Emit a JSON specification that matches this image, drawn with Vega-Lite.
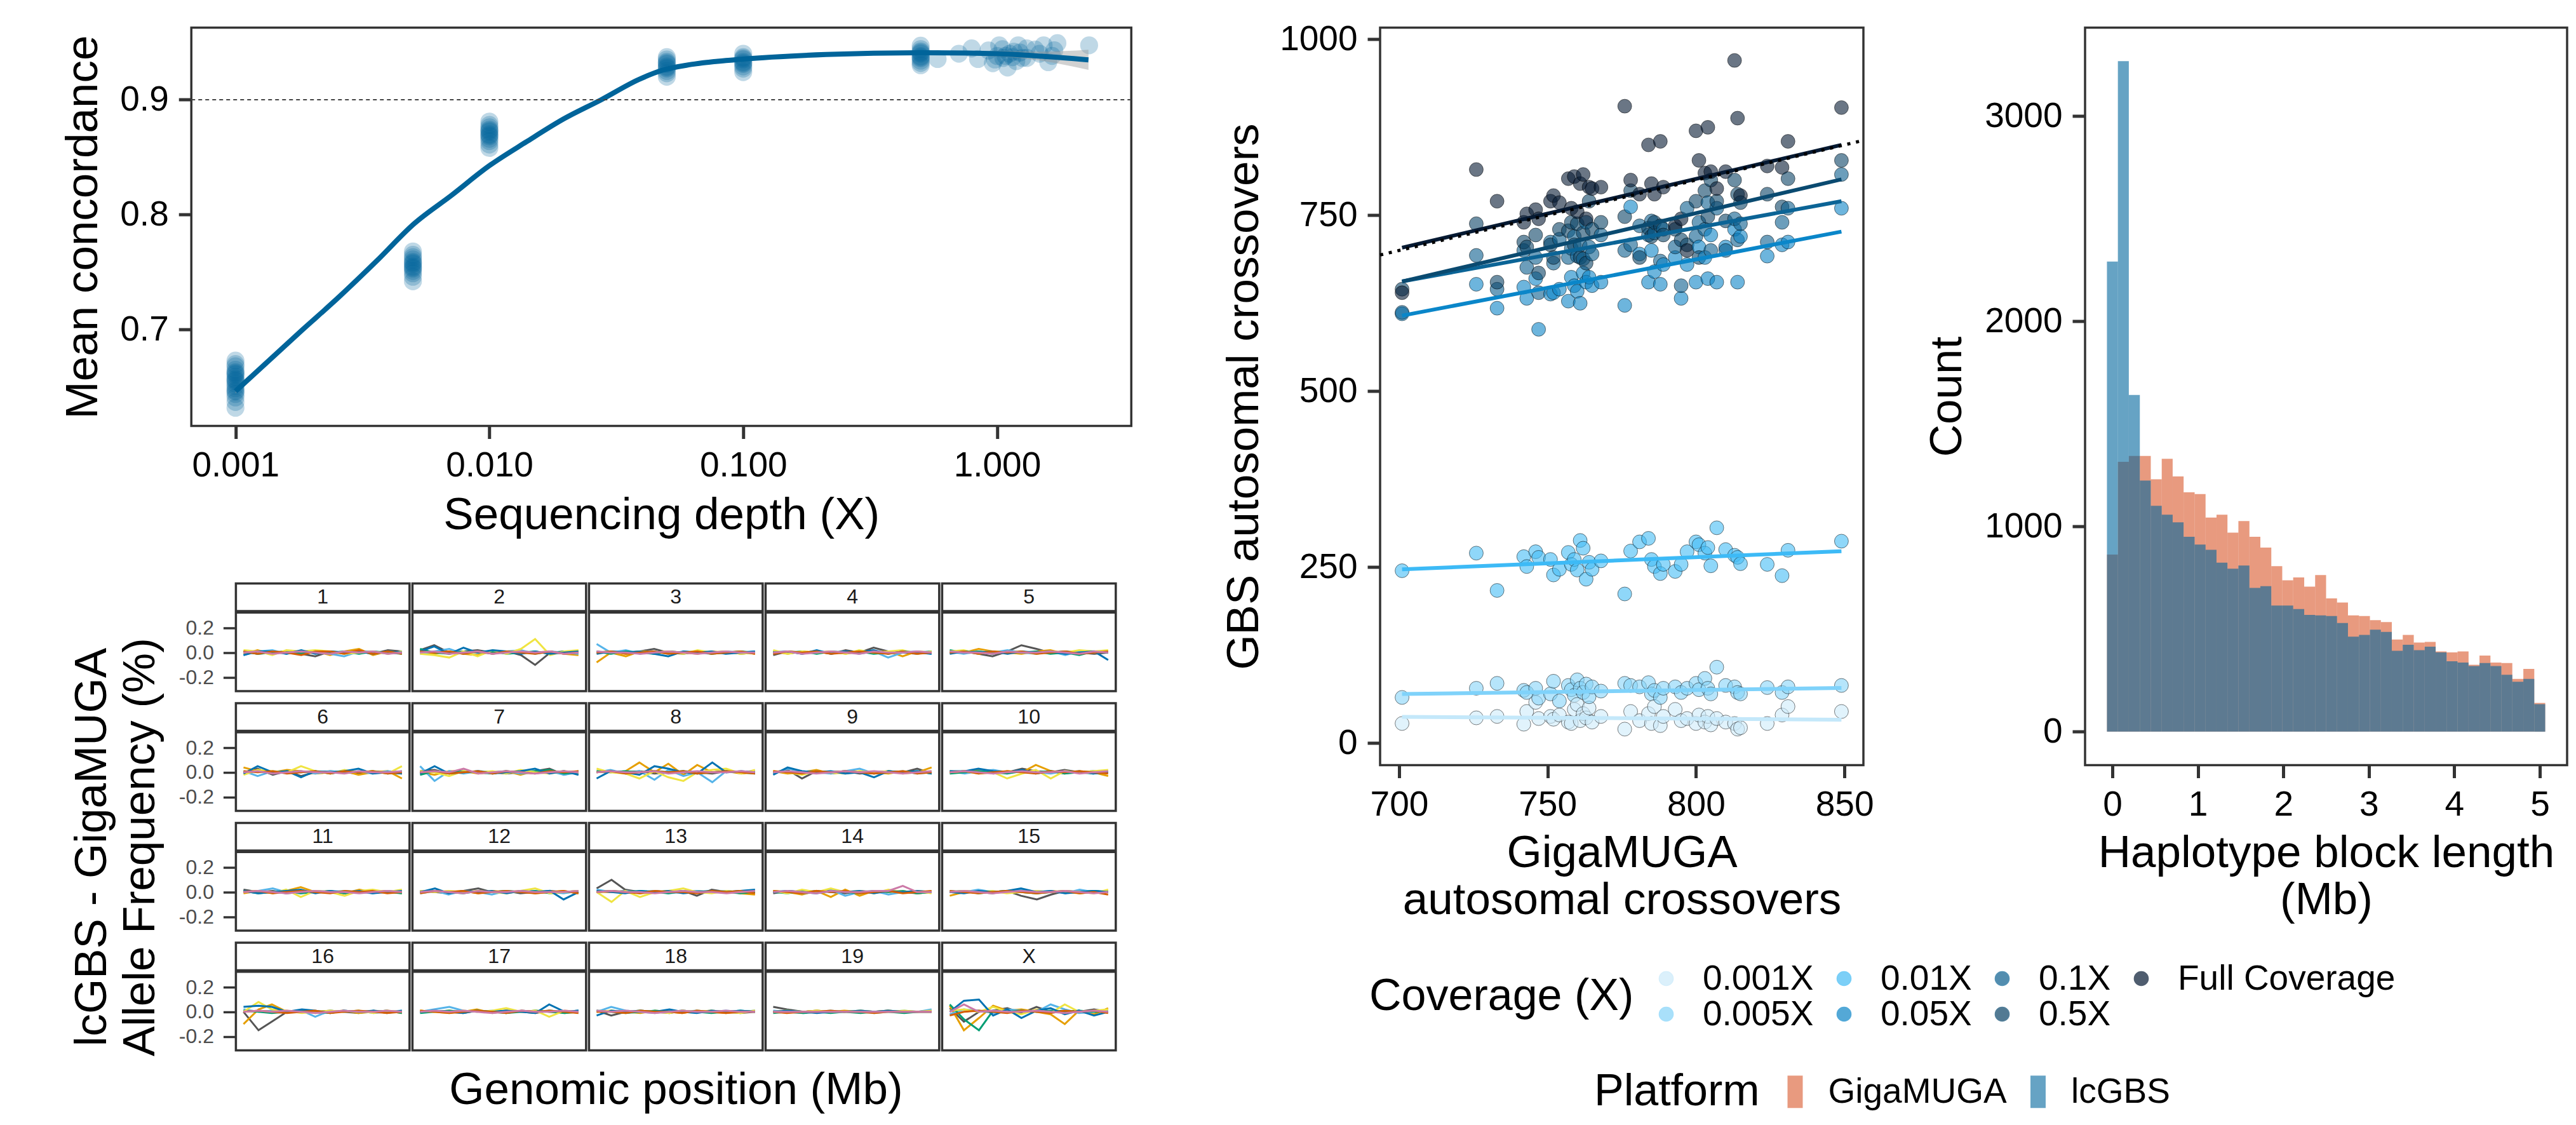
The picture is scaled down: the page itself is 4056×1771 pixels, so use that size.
{
  "$schema": "https://vega.github.io/schema/vega-lite/v6.json",
  "background": "white",
  "padding": {"left": 94, "top": 32.5, "right": 0, "bottom": 0},
  "config": {
    "font": "Liberation Sans",
    "view": {"stroke": "#333333", "strokeWidth": 3.5},
    "axis": {"domain": false, "grid": false, "tickColor": "#333333", "tickWidth": 5, "tickSize": 20, "labelColor": "#000000", "labelFontSize": 55, "labelPadding": 16, "labelFont": "Liberation Sans", "titleFont": "Liberation Sans", "titleFontSize": 71, "titleFontWeight": "normal", "titleColor": "#000000", "labelFlush": false},
    "legend": {"labelFont": "Liberation Sans", "titleFont": "Liberation Sans", "titleFontWeight": "normal", "labelColor": "#000000", "titleColor": "#000000", "labelLimit": 2000, "titleLimit": 2000},
    "title": {"font": "Liberation Sans", "fontWeight": "normal", "color": "#000000"}
  },
  "datasets": {
    "conc": [
      {"depth":0.001,"conc":0.632},{"depth":0.001,"conc":0.637},{"depth":0.001,"conc":0.641},{"depth":0.001,"conc":0.644},{"depth":0.001,"conc":0.647},{"depth":0.001,"conc":0.649},{"depth":0.001,"conc":0.651},{"depth":0.001,"conc":0.653},{"depth":0.001,"conc":0.655},{"depth":0.001,"conc":0.657},{"depth":0.001,"conc":0.659},{"depth":0.001,"conc":0.661},{"depth":0.001,"conc":0.663},{"depth":0.001,"conc":0.665},{"depth":0.001,"conc":0.668},{"depth":0.001,"conc":0.670},{"depth":0.001,"conc":0.673},{"depth":0.001,"conc":0.646},{"depth":0.001,"conc":0.656},{"depth":0.001,"conc":0.662},
      {"depth":0.005,"conc":0.742},{"depth":0.005,"conc":0.746},{"depth":0.005,"conc":0.749},{"depth":0.005,"conc":0.751},{"depth":0.005,"conc":0.753},{"depth":0.005,"conc":0.755},{"depth":0.005,"conc":0.757},{"depth":0.005,"conc":0.759},{"depth":0.005,"conc":0.761},{"depth":0.005,"conc":0.763},{"depth":0.005,"conc":0.765},{"depth":0.005,"conc":0.768},{"depth":0.005,"conc":0.754},{"depth":0.005,"conc":0.758},
      {"depth":0.01,"conc":0.858},{"depth":0.01,"conc":0.861},{"depth":0.01,"conc":0.864},{"depth":0.01,"conc":0.866},{"depth":0.01,"conc":0.868},{"depth":0.01,"conc":0.870},{"depth":0.01,"conc":0.872},{"depth":0.01,"conc":0.874},{"depth":0.01,"conc":0.876},{"depth":0.01,"conc":0.878},{"depth":0.01,"conc":0.881},{"depth":0.01,"conc":0.869},{"depth":0.01,"conc":0.873},
      {"depth":0.05,"conc":0.920},{"depth":0.05,"conc":0.923},{"depth":0.05,"conc":0.925},{"depth":0.05,"conc":0.927},{"depth":0.05,"conc":0.929},{"depth":0.05,"conc":0.931},{"depth":0.05,"conc":0.933},{"depth":0.05,"conc":0.935},{"depth":0.05,"conc":0.937},{"depth":0.05,"conc":0.928},{"depth":0.05,"conc":0.932},
      {"depth":0.1,"conc":0.924},{"depth":0.1,"conc":0.927},{"depth":0.1,"conc":0.929},{"depth":0.1,"conc":0.931},{"depth":0.1,"conc":0.933},{"depth":0.1,"conc":0.935},{"depth":0.1,"conc":0.937},{"depth":0.1,"conc":0.940},{"depth":0.1,"conc":0.932},{"depth":0.1,"conc":0.936},
      {"depth":0.5,"conc":0.930},{"depth":0.5,"conc":0.932},{"depth":0.5,"conc":0.934},{"depth":0.5,"conc":0.936},{"depth":0.5,"conc":0.938},{"depth":0.5,"conc":0.940},{"depth":0.5,"conc":0.942},{"depth":0.5,"conc":0.944},{"depth":0.5,"conc":0.947},{"depth":0.5,"conc":0.937},{"depth":0.5,"conc":0.941},
      {"depth":0.583,"conc":0.9354},{"depth":0.707,"conc":0.940},{"depth":0.794,"conc":0.9446},{"depth":0.841,"conc":0.9354},{"depth":0.925,"conc":0.9428},{"depth":0.962,"conc":0.9317},{"depth":1.019,"conc":0.9473},{"depth":1.058,"conc":0.9363},{"depth":1.079,"conc":0.9381},{"depth":1.1,"conc":0.928},{"depth":1.12,"conc":0.940},{"depth":1.165,"conc":0.9418},{"depth":1.19,"conc":0.9335},{"depth":1.211,"conc":0.9473},{"depth":1.258,"conc":0.9363},{"depth":1.307,"conc":0.9446},{"depth":1.31,"conc":0.9363},{"depth":1.412,"conc":0.9437},{"depth":1.47,"conc":0.940},{"depth":1.525,"conc":0.9473},{"depth":1.59,"conc":0.9326},{"depth":1.647,"conc":0.9381},{"depth":1.68,"conc":0.943},{"depth":1.728,"conc":0.9492},{"depth":2.304,"conc":0.9473},{"depth":1.0,"conc":0.938},{"depth":1.05,"conc":0.944},{"depth":1.15,"conc":0.937},{"depth":1.23,"conc":0.941},{"depth":0.98,"conc":0.935}
    ],
    "fit": [
      {"depth":0.001,"fit":0.6464,"lo":0.6444,"hi":0.6484},
      {"depth":0.00182,"fit":0.6991,"lo":0.6971,"hi":0.7011},
      {"depth":0.00256,"fit":0.7285,"lo":0.7265,"hi":0.7305},
      {"depth":0.00359,"fit":0.7595,"lo":0.7575,"hi":0.7615},
      {"depth":0.00505,"fit":0.7921,"lo":0.7901,"hi":0.7941},
      {"depth":0.0071,"fit":0.8169,"lo":0.8149,"hi":0.8189},
      {"depth":0.01,"fit":0.8426,"lo":0.8406,"hi":0.8446},
      {"depth":0.014,"fit":0.8634,"lo":0.8614,"hi":0.8654},
      {"depth":0.0197,"fit":0.8835,"lo":0.8815,"hi":0.8855},
      {"depth":0.0276,"fit":0.9,"lo":0.898,"hi":0.902},
      {"depth":0.0388,"fit":0.9176,"lo":0.9156,"hi":0.9196},
      {"depth":0.0476,"fit":0.9254,"lo":0.9234,"hi":0.9274},
      {"depth":0.0625,"fit":0.9307,"lo":0.9287,"hi":0.9327},
      {"depth":0.1,"fit":0.9353,"lo":0.9333,"hi":0.9373},
      {"depth":0.212,"fit":0.9393,"lo":0.9375,"hi":0.9411},
      {"depth":0.5,"fit":0.9409,"lo":0.9392,"hi":0.9426},
      {"depth":1.0,"fit":0.9400,"lo":0.9375,"hi":0.9425},
      {"depth":1.5,"fit":0.9378,"lo":0.9338,"hi":0.9418},
      {"depth":2.29,"fit":0.9347,"lo":0.9259,"hi":0.9435}
    ],
    "thresh": [{"conc": 0.9}],
    "af": [
      {"chr":"1","pos":3,"a":0.01,"b":-0.01,"c":-0.02,"d":0.01,"e":0.02,"f":-0.02,"g":0.01,"h":0.0},
      {"chr":"1","pos":20,"a":-0.01,"b":0.02,"c":0.01,"d":-0.01,"e":0.01,"f":0.01,"g":-0.01,"h":0.01},
      {"chr":"1","pos":38,"a":0.0,"b":-0.01,"c":0.02,"d":0.0,"e":-0.02,"f":0.01,"g":0.01,"h":-0.01},
      {"chr":"1","pos":55,"a":0.01,"b":0.01,"c":-0.01,"d":0.01,"e":0.02,"f":-0.01,"g":0.0,"h":0.0},
      {"chr":"1","pos":73,"a":-0.01,"b":0.0,"c":0.01,"d":-0.01,"e":0.01,"f":0.02,"g":-0.02,"h":0.01},
      {"chr":"1","pos":90,"a":-0.03,"b":0.01,"c":0.0,"d":0.01,"e":0.02,"f":-0.01,"g":0.01,"h":0.0},
      {"chr":"1","pos":108,"a":0.01,"b":-0.02,"c":-0.01,"d":0.0,"e":0.01,"f":0.01,"g":0.01,"h":-0.01},
      {"chr":"1","pos":125,"a":0.0,"b":0.01,"c":-0.03,"d":0.01,"e":-0.01,"f":0.0,"g":-0.01,"h":0.01},
      {"chr":"1","pos":143,"a":0.01,"b":0.03,"c":0.01,"d":-0.01,"e":0.0,"f":0.01,"g":0.02,"h":0.0},
      {"chr":"1","pos":160,"a":-0.01,"b":-0.02,"c":0.01,"d":0.01,"e":0.01,"f":-0.01,"g":-0.01,"h":0.01},
      {"chr":"1","pos":178,"a":0.02,"b":0.01,"c":-0.01,"d":0.0,"e":-0.01,"f":0.01,"g":0.01,"h":-0.01},
      {"chr":"1","pos":195,"a":0.01,"b":0.0,"c":0.01,"d":-0.01,"e":0.01,"f":0.0,"g":-0.01,"h":0.0},
      {"chr":"2","pos":3,"a":0.02,"b":0.0,"c":-0.01,"d":0.03,"e":-0.01,"f":0.01,"g":0.01,"h":0.0},
      {"chr":"2","pos":19,"a":0.06,"b":-0.01,"c":0.01,"d":0.0,"e":-0.02,"f":0.05,"g":0.0,"h":0.01},
      {"chr":"2","pos":36,"a":0.0,"b":0.01,"c":0.03,"d":-0.01,"e":-0.04,"f":-0.01,"g":0.01,"h":-0.01},
      {"chr":"2","pos":52,"a":0.01,"b":-0.01,"c":-0.01,"d":0.01,"e":0.01,"f":0.04,"g":-0.01,"h":0.0},
      {"chr":"2","pos":68,"a":0.02,"b":-0.02,"c":0.01,"d":0.0,"e":-0.03,"f":0.0,"g":0.01,"h":0.01},
      {"chr":"2","pos":85,"a":0.0,"b":0.01,"c":-0.01,"d":0.01,"e":0.02,"f":0.02,"g":-0.01,"h":-0.01},
      {"chr":"2","pos":101,"a":0.01,"b":0.0,"c":0.01,"d":-0.01,"e":-0.01,"f":0.01,"g":0.01,"h":0.0},
      {"chr":"2","pos":117,"a":-0.02,"b":0.01,"c":0.02,"d":0.0,"e":0.03,"f":-0.01,"g":0.0,"h":0.01},
      {"chr":"2","pos":133,"a":-0.1,"b":0.0,"c":-0.01,"d":0.01,"e":0.11,"f":0.01,"g":-0.01,"h":0.0},
      {"chr":"2","pos":150,"a":0.0,"b":0.01,"c":0.01,"d":-0.01,"e":-0.02,"f":-0.01,"g":0.01,"h":0.01},
      {"chr":"2","pos":166,"a":0.01,"b":-0.01,"c":0.0,"d":0.01,"e":0.01,"f":0.0,"g":-0.01,"h":-0.01},
      {"chr":"2","pos":182,"a":0.0,"b":-0.02,"c":-0.01,"d":0.0,"e":0.02,"f":0.01,"g":0.0,"h":0.0},
      {"chr":"3","pos":3,"a":0.0,"b":-0.08,"c":0.07,"d":0.01,"e":0.0,"f":-0.01,"g":0.0,"h":0.01},
      {"chr":"3","pos":17,"a":0.01,"b":0.0,"c":0.0,"d":-0.01,"e":0.01,"f":0.01,"g":0.01,"h":0.0},
      {"chr":"3","pos":32,"a":0.0,"b":-0.03,"c":0.02,"d":0.01,"e":-0.01,"f":0.0,"g":-0.01,"h":0.0},
      {"chr":"3","pos":46,"a":0.01,"b":0.01,"c":-0.01,"d":0.0,"e":0.01,"f":0.01,"g":0.0,"h":-0.01},
      {"chr":"3","pos":60,"a":0.03,"b":0.0,"c":0.01,"d":-0.01,"e":0.0,"f":-0.01,"g":0.01,"h":0.0},
      {"chr":"3","pos":74,"a":0.0,"b":0.01,"c":-0.01,"d":0.01,"e":0.01,"f":-0.03,"g":-0.01,"h":0.01},
      {"chr":"3","pos":89,"a":-0.01,"b":0.0,"c":0.01,"d":0.0,"e":-0.01,"f":0.01,"g":0.0,"h":0.0},
      {"chr":"3","pos":103,"a":0.01,"b":-0.01,"c":0.0,"d":0.01,"e":0.02,"f":0.0,"g":0.01,"h":-0.01},
      {"chr":"3","pos":117,"a":0.0,"b":0.01,"c":-0.01,"d":-0.01,"e":0.0,"f":0.01,"g":-0.01,"h":0.0},
      {"chr":"3","pos":131,"a":0.01,"b":0.0,"c":0.01,"d":0.0,"e":0.01,"f":-0.01,"g":0.0,"h":0.01},
      {"chr":"3","pos":146,"a":-0.01,"b":0.01,"c":0.0,"d":0.01,"e":-0.01,"f":0.0,"g":0.01,"h":0.0},
      {"chr":"3","pos":160,"a":0.0,"b":-0.01,"c":0.01,"d":0.0,"e":0.0,"f":0.01,"g":-0.01,"h":0.0},
      {"chr":"4","pos":3,"a":-0.02,"b":0.01,"c":0.0,"d":0.01,"e":0.02,"f":0.0,"g":-0.01,"h":0.0},
      {"chr":"4","pos":17,"a":0.01,"b":-0.01,"c":0.01,"d":0.0,"e":-0.01,"f":0.01,"g":0.01,"h":0.01},
      {"chr":"4","pos":31,"a":0.0,"b":0.01,"c":-0.01,"d":0.01,"e":0.01,"f":-0.01,"g":0.0,"h":-0.01},
      {"chr":"4","pos":45,"a":0.01,"b":0.0,"c":0.01,"d":-0.01,"e":0.0,"f":0.02,"g":0.01,"h":0.0},
      {"chr":"4","pos":59,"a":-0.01,"b":0.01,"c":0.0,"d":0.01,"e":0.01,"f":-0.01,"g":-0.01,"h":0.01},
      {"chr":"4","pos":73,"a":0.02,"b":-0.01,"c":0.01,"d":0.0,"e":-0.01,"f":0.01,"g":0.0,"h":0.0},
      {"chr":"4","pos":86,"a":0.0,"b":0.01,"c":-0.01,"d":0.01,"e":0.02,"f":0.0,"g":0.01,"h":-0.01},
      {"chr":"4","pos":100,"a":0.04,"b":0.0,"c":0.01,"d":-0.01,"e":0.0,"f":0.02,"g":0.0,"h":0.01},
      {"chr":"4","pos":114,"a":0.01,"b":0.01,"c":-0.04,"d":0.0,"e":0.01,"f":-0.01,"g":-0.01,"h":0.0},
      {"chr":"4","pos":128,"a":0.0,"b":-0.03,"c":0.0,"d":0.01,"e":0.02,"f":0.01,"g":0.01,"h":0.0},
      {"chr":"4","pos":142,"a":-0.01,"b":0.01,"c":0.01,"d":0.0,"e":-0.01,"f":0.0,"g":-0.01,"h":0.01},
      {"chr":"4","pos":156,"a":0.01,"b":0.0,"c":-0.01,"d":0.01,"e":0.01,"f":-0.01,"g":0.0,"h":0.0},
      {"chr":"5","pos":3,"a":0.0,"b":0.01,"c":0.01,"d":0.02,"e":0.01,"f":-0.01,"g":0.0,"h":0.01},
      {"chr":"5","pos":16,"a":0.01,"b":0.0,"c":-0.01,"d":0.0,"e":0.02,"f":0.01,"g":0.01,"h":0.0},
      {"chr":"5","pos":30,"a":-0.01,"b":0.03,"c":0.01,"d":0.01,"e":-0.01,"f":0.0,"g":-0.01,"h":0.0},
      {"chr":"5","pos":43,"a":-0.03,"b":0.01,"c":0.0,"d":-0.01,"e":0.01,"f":0.01,"g":0.01,"h":-0.01},
      {"chr":"5","pos":57,"a":0.01,"b":0.0,"c":0.02,"d":0.01,"e":0.0,"f":-0.01,"g":0.0,"h":0.01},
      {"chr":"5","pos":70,"a":0.06,"b":-0.01,"c":0.0,"d":0.0,"e":0.01,"f":0.01,"g":0.01,"h":0.0},
      {"chr":"5","pos":84,"a":0.03,"b":0.01,"c":-0.01,"d":0.01,"e":-0.01,"f":0.0,"g":-0.01,"h":0.0},
      {"chr":"5","pos":97,"a":0.0,"b":0.02,"c":0.01,"d":-0.01,"e":0.01,"f":0.01,"g":0.0,"h":0.01},
      {"chr":"5","pos":111,"a":0.01,"b":-0.01,"c":-0.02,"d":0.0,"e":0.0,"f":-0.01,"g":0.01,"h":0.0},
      {"chr":"5","pos":124,"a":0.0,"b":0.01,"c":0.01,"d":-0.02,"e":0.02,"f":0.0,"g":-0.01,"h":-0.01},
      {"chr":"5","pos":138,"a":-0.01,"b":0.0,"c":0.0,"d":0.01,"e":0.01,"f":0.01,"g":0.0,"h":0.01},
      {"chr":"5","pos":151,"a":0.0,"b":0.01,"c":0.01,"d":0.0,"e":0.02,"f":-0.06,"g":0.01,"h":0.0},
      {"chr":"6","pos":3,"a":0.0,"b":0.04,"c":0.01,"d":0.0,"e":-0.02,"f":-0.01,"g":0.01,"h":0.0},
      {"chr":"6","pos":16,"a":0.03,"b":0.01,"c":-0.03,"d":0.01,"e":0.02,"f":0.05,"g":0.0,"h":0.01},
      {"chr":"6","pos":30,"a":-0.02,"b":0.0,"c":0.01,"d":-0.01,"e":0.01,"f":0.0,"g":0.01,"h":-0.01},
      {"chr":"6","pos":43,"a":0.01,"b":0.02,"c":0.0,"d":0.01,"e":0.0,"f":0.01,"g":-0.01,"h":0.0},
      {"chr":"6","pos":56,"a":-0.03,"b":0.01,"c":0.01,"d":0.0,"e":0.05,"f":-0.04,"g":0.0,"h":0.01},
      {"chr":"6","pos":69,"a":0.0,"b":-0.01,"c":-0.01,"d":0.01,"e":0.01,"f":0.01,"g":0.01,"h":0.0},
      {"chr":"6","pos":83,"a":0.01,"b":0.0,"c":0.01,"d":-0.01,"e":-0.01,"f":0.0,"g":-0.01,"h":0.0},
      {"chr":"6","pos":96,"a":0.0,"b":0.01,"c":0.0,"d":0.01,"e":0.02,"f":0.01,"g":0.01,"h":-0.01},
      {"chr":"6","pos":109,"a":-0.01,"b":-0.02,"c":0.01,"d":0.0,"e":0.0,"f":0.03,"g":0.0,"h":0.01},
      {"chr":"6","pos":122,"a":0.01,"b":0.0,"c":-0.01,"d":0.01,"e":0.01,"f":-0.01,"g":0.01,"h":0.0},
      {"chr":"6","pos":136,"a":0.0,"b":0.01,"c":0.01,"d":-0.01,"e":-0.01,"f":0.0,"g":-0.01,"h":0.0},
      {"chr":"6","pos":149,"a":-0.01,"b":-0.05,"c":0.0,"d":0.01,"e":0.05,"f":-0.01,"g":0.0,"h":0.01},
      {"chr":"7","pos":3,"a":0.01,"b":0.0,"c":0.05,"d":-0.02,"e":0.01,"f":-0.01,"g":0.0,"h":0.0},
      {"chr":"7","pos":16,"a":0.02,"b":-0.02,"c":-0.07,"d":0.01,"e":0.0,"f":0.05,"g":0.01,"h":0.01},
      {"chr":"7","pos":29,"a":-0.01,"b":0.01,"c":0.01,"d":0.0,"e":-0.03,"f":-0.01,"g":-0.01,"h":0.0},
      {"chr":"7","pos":42,"a":0.0,"b":0.01,"c":-0.01,"d":0.01,"e":0.01,"f":0.0,"g":0.0,"h":0.03},
      {"chr":"7","pos":55,"a":0.01,"b":-0.01,"c":0.01,"d":0.0,"e":0.0,"f":0.01,"g":0.01,"h":-0.01},
      {"chr":"7","pos":68,"a":0.0,"b":0.0,"c":0.0,"d":-0.01,"e":0.01,"f":-0.01,"g":-0.01,"h":0.0},
      {"chr":"7","pos":80,"a":-0.01,"b":0.01,"c":0.01,"d":0.01,"e":-0.01,"f":0.0,"g":0.01,"h":0.01},
      {"chr":"7","pos":93,"a":0.0,"b":-0.02,"c":-0.01,"d":0.0,"e":0.02,"f":0.01,"g":0.0,"h":0.0},
      {"chr":"7","pos":106,"a":0.01,"b":0.01,"c":0.0,"d":0.01,"e":0.0,"f":0.03,"g":-0.01,"h":-0.01},
      {"chr":"7","pos":119,"a":0.03,"b":0.0,"c":0.01,"d":0.02,"e":-0.01,"f":-0.01,"g":0.01,"h":0.0},
      {"chr":"7","pos":132,"a":-0.02,"b":0.01,"c":-0.02,"d":-0.01,"e":0.01,"f":0.01,"g":0.0,"h":0.01},
      {"chr":"7","pos":145,"a":0.01,"b":-0.01,"c":0.0,"d":0.0,"e":0.0,"f":-0.02,"g":0.01,"h":0.0},
      {"chr":"8","pos":3,"a":0.0,"b":0.01,"c":0.0,"d":0.01,"e":0.03,"f":-0.05,"g":0.0,"h":0.0},
      {"chr":"8","pos":14,"a":0.01,"b":0.0,"c":0.02,"d":0.0,"e":0.0,"f":0.01,"g":0.01,"h":0.01},
      {"chr":"8","pos":26,"a":0.0,"b":0.01,"c":-0.01,"d":0.01,"e":-0.01,"f":0.0,"g":-0.01,"h":0.0},
      {"chr":"8","pos":37,"a":0.01,"b":0.08,"c":0.01,"d":0.0,"e":-0.05,"f":-0.02,"g":0.0,"h":0.0},
      {"chr":"8","pos":49,"a":-0.01,"b":0.0,"c":-0.06,"d":0.01,"e":0.01,"f":0.05,"g":0.01,"h":0.01},
      {"chr":"8","pos":60,"a":0.0,"b":0.07,"c":0.02,"d":0.0,"e":-0.04,"f":0.03,"g":0.0,"h":-0.01},
      {"chr":"8","pos":72,"a":0.01,"b":-0.02,"c":-0.03,"d":0.01,"e":-0.07,"f":0.0,"g":0.01,"h":0.0},
      {"chr":"8","pos":83,"a":0.0,"b":0.06,"c":0.0,"d":-0.01,"e":0.0,"f":-0.01,"g":-0.01,"h":0.01},
      {"chr":"8","pos":95,"a":-0.01,"b":0.0,"c":-0.08,"d":0.0,"e":0.02,"f":0.08,"g":0.0,"h":0.0},
      {"chr":"8","pos":106,"a":0.01,"b":0.01,"c":0.01,"d":0.01,"e":0.03,"f":0.0,"g":0.01,"h":0.0},
      {"chr":"8","pos":118,"a":0.0,"b":-0.01,"c":0.0,"d":0.0,"e":-0.01,"f":0.01,"g":0.0,"h":0.01},
      {"chr":"8","pos":129,"a":0.01,"b":0.0,"c":0.01,"d":-0.01,"e":0.02,"f":0.0,"g":-0.01,"h":0.0},
      {"chr":"9","pos":3,"a":0.0,"b":0.01,"c":-0.01,"d":0.0,"e":0.01,"f":-0.02,"g":0.01,"h":0.0},
      {"chr":"9","pos":14,"a":0.02,"b":-0.01,"c":0.03,"d":0.01,"e":0.0,"f":0.04,"g":0.0,"h":0.01},
      {"chr":"9","pos":25,"a":-0.05,"b":0.0,"c":0.01,"d":-0.01,"e":-0.02,"f":0.01,"g":-0.01,"h":0.0},
      {"chr":"9","pos":36,"a":0.01,"b":0.02,"c":0.0,"d":0.01,"e":0.01,"f":0.0,"g":0.01,"h":-0.01},
      {"chr":"9","pos":47,"a":0.0,"b":-0.01,"c":-0.01,"d":0.0,"e":0.0,"f":0.01,"g":0.0,"h":0.0},
      {"chr":"9","pos":58,"a":0.01,"b":0.0,"c":0.01,"d":0.01,"e":-0.01,"f":-0.01,"g":0.01,"h":0.01},
      {"chr":"9","pos":69,"a":-0.01,"b":0.01,"c":0.03,"d":0.0,"e":0.01,"f":0.0,"g":0.0,"h":0.0},
      {"chr":"9","pos":80,"a":0.0,"b":0.0,"c":-0.01,"d":-0.01,"e":0.0,"f":-0.04,"g":-0.01,"h":0.01},
      {"chr":"9","pos":91,"a":0.01,"b":-0.01,"c":0.0,"d":0.01,"e":0.01,"f":0.01,"g":0.0,"h":0.0},
      {"chr":"9","pos":102,"a":0.0,"b":0.01,"c":0.01,"d":0.0,"e":-0.01,"f":0.0,"g":0.01,"h":-0.01},
      {"chr":"9","pos":113,"a":0.03,"b":0.0,"c":-0.01,"d":0.01,"e":0.0,"f":0.01,"g":-0.01,"h":0.0},
      {"chr":"9","pos":124,"a":-0.01,"b":0.04,"c":0.0,"d":-0.01,"e":0.01,"f":-0.01,"g":0.0,"h":0.01},
      {"chr":"10","pos":3,"a":0.0,"b":0.01,"c":0.01,"d":-0.01,"e":0.0,"f":0.01,"g":0.0,"h":0.0},
      {"chr":"10","pos":15,"a":0.01,"b":0.0,"c":-0.01,"d":0.0,"e":0.01,"f":0.01,"g":0.01,"h":0.01},
      {"chr":"10","pos":26,"a":0.0,"b":0.02,"c":0.01,"d":0.01,"e":-0.01,"f":0.03,"g":-0.01,"h":0.0},
      {"chr":"10","pos":38,"a":0.01,"b":-0.01,"c":0.02,"d":0.0,"e":0.0,"f":0.01,"g":0.0,"h":-0.01},
      {"chr":"10","pos":49,"a":0.0,"b":0.01,"c":0.0,"d":-0.01,"e":-0.05,"f":0.0,"g":0.01,"h":0.0},
      {"chr":"10","pos":61,"a":0.03,"b":0.0,"c":0.01,"d":0.01,"e":-0.01,"f":0.02,"g":0.0,"h":0.01},
      {"chr":"10","pos":72,"a":0.01,"b":0.06,"c":0.0,"d":0.0,"e":0.02,"f":-0.01,"g":-0.01,"h":0.0},
      {"chr":"10","pos":84,"a":0.0,"b":0.01,"c":-0.01,"d":0.01,"e":-0.05,"f":0.01,"g":0.01,"h":0.0},
      {"chr":"10","pos":95,"a":0.02,"b":-0.01,"c":0.01,"d":-0.01,"e":0.01,"f":0.0,"g":0.0,"h":0.01},
      {"chr":"10","pos":107,"a":0.0,"b":0.01,"c":0.0,"d":0.0,"e":0.0,"f":0.01,"g":0.01,"h":-0.01},
      {"chr":"10","pos":118,"a":0.01,"b":0.0,"c":0.01,"d":-0.01,"e":0.01,"f":-0.01,"g":0.0,"h":0.0},
      {"chr":"10","pos":130,"a":0.0,"b":-0.03,"c":0.0,"d":0.01,"e":0.02,"f":0.0,"g":-0.01,"h":0.01},
      {"chr":"11","pos":3,"a":0.02,"b":-0.01,"c":0.0,"d":0.01,"e":0.0,"f":0.01,"g":0.0,"h":0.0},
      {"chr":"11","pos":14,"a":0.0,"b":0.01,"c":0.01,"d":-0.01,"e":0.01,"f":-0.01,"g":0.01,"h":0.01},
      {"chr":"11","pos":25,"a":0.01,"b":0.0,"c":0.03,"d":0.0,"e":-0.01,"f":0.0,"g":-0.01,"h":0.0},
      {"chr":"11","pos":35,"a":-0.01,"b":0.01,"c":0.0,"d":0.01,"e":0.02,"f":0.01,"g":0.0,"h":-0.01},
      {"chr":"11","pos":46,"a":0.0,"b":0.04,"c":-0.01,"d":-0.01,"e":-0.04,"f":0.02,"g":0.01,"h":0.0},
      {"chr":"11","pos":57,"a":0.01,"b":0.0,"c":0.01,"d":0.0,"e":0.01,"f":-0.01,"g":0.0,"h":0.01},
      {"chr":"11","pos":68,"a":0.0,"b":0.01,"c":0.0,"d":0.01,"e":0.0,"f":0.01,"g":-0.01,"h":0.0},
      {"chr":"11","pos":79,"a":-0.01,"b":-0.01,"c":0.01,"d":-0.01,"e":-0.03,"f":0.0,"g":0.01,"h":0.0},
      {"chr":"11","pos":90,"a":0.01,"b":0.02,"c":0.0,"d":0.0,"e":0.01,"f":0.01,"g":0.0,"h":-0.01},
      {"chr":"11","pos":100,"a":0.0,"b":0.0,"c":-0.01,"d":0.01,"e":0.02,"f":-0.01,"g":0.01,"h":0.0},
      {"chr":"11","pos":111,"a":0.01,"b":0.01,"c":0.01,"d":0.0,"e":0.0,"f":0.0,"g":-0.01,"h":0.01},
      {"chr":"11","pos":122,"a":0.0,"b":-0.01,"c":0.0,"d":-0.01,"e":0.02,"f":0.01,"g":0.0,"h":0.0},
      {"chr":"12","pos":3,"a":0.01,"b":0.0,"c":-0.01,"d":0.0,"e":0.01,"f":0.0,"g":-0.01,"h":0.0},
      {"chr":"12","pos":14,"a":0.0,"b":0.01,"c":0.01,"d":0.01,"e":0.0,"f":0.03,"g":0.01,"h":0.01},
      {"chr":"12","pos":24,"a":-0.01,"b":0.0,"c":-0.02,"d":0.0,"e":0.01,"f":-0.01,"g":0.0,"h":0.0},
      {"chr":"12","pos":35,"a":0.01,"b":0.01,"c":0.01,"d":-0.01,"e":0.0,"f":0.01,"g":0.01,"h":-0.01},
      {"chr":"12","pos":46,"a":0.03,"b":-0.01,"c":0.0,"d":0.01,"e":0.01,"f":0.0,"g":-0.01,"h":0.01},
      {"chr":"12","pos":56,"a":0.0,"b":0.01,"c":-0.02,"d":0.0,"e":0.0,"f":0.01,"g":0.0,"h":0.0},
      {"chr":"12","pos":67,"a":0.01,"b":0.0,"c":0.01,"d":0.01,"e":-0.01,"f":-0.01,"g":0.01,"h":0.0},
      {"chr":"12","pos":77,"a":-0.01,"b":0.01,"c":0.0,"d":0.0,"e":0.01,"f":0.01,"g":0.0,"h":0.01},
      {"chr":"12","pos":88,"a":0.0,"b":-0.01,"c":0.01,"d":0.01,"e":0.03,"f":0.0,"g":-0.01,"h":0.0},
      {"chr":"12","pos":99,"a":0.01,"b":0.0,"c":0.0,"d":-0.01,"e":-0.01,"f":0.01,"g":0.0,"h":0.0},
      {"chr":"12","pos":109,"a":0.0,"b":0.01,"c":-0.01,"d":0.0,"e":0.0,"f":-0.06,"g":0.01,"h":0.0},
      {"chr":"12","pos":120,"a":0.01,"b":-0.01,"c":0.01,"d":0.0,"e":0.01,"f":0.0,"g":-0.01,"h":0.01},
      {"chr":"13","pos":3,"a":0.03,"b":0.0,"c":0.02,"d":0.0,"e":0.0,"f":0.01,"g":0.0,"h":0.0},
      {"chr":"13","pos":14,"a":0.1,"b":0.0,"c":0.0,"d":0.01,"e":-0.08,"f":0.0,"g":0.01,"h":0.01},
      {"chr":"13","pos":24,"a":0.02,"b":0.01,"c":0.01,"d":0.0,"e":0.01,"f":-0.01,"g":0.0,"h":0.0},
      {"chr":"13","pos":35,"a":0.0,"b":-0.01,"c":0.0,"d":0.01,"e":-0.04,"f":0.01,"g":-0.01,"h":0.0},
      {"chr":"13","pos":46,"a":0.01,"b":0.0,"c":0.01,"d":0.0,"e":0.0,"f":0.0,"g":0.01,"h":-0.01},
      {"chr":"13","pos":56,"a":0.0,"b":0.01,"c":-0.01,"d":-0.01,"e":0.01,"f":0.01,"g":0.0,"h":0.0},
      {"chr":"13","pos":67,"a":0.01,"b":0.0,"c":0.0,"d":0.01,"e":0.03,"f":-0.01,"g":0.0,"h":0.01},
      {"chr":"13","pos":77,"a":-0.03,"b":0.01,"c":0.01,"d":0.0,"e":0.0,"f":0.0,"g":-0.01,"h":0.0},
      {"chr":"13","pos":88,"a":0.02,"b":0.0,"c":0.0,"d":0.01,"e":-0.01,"f":0.01,"g":0.01,"h":0.0},
      {"chr":"13","pos":99,"a":0.0,"b":0.01,"c":0.01,"d":0.0,"e":0.01,"f":0.0,"g":0.0,"h":-0.01},
      {"chr":"13","pos":109,"a":0.01,"b":-0.01,"c":0.0,"d":-0.01,"e":0.0,"f":0.01,"g":0.01,"h":0.0},
      {"chr":"13","pos":120,"a":0.0,"b":-0.02,"c":0.01,"d":0.0,"e":0.01,"f":0.02,"g":-0.01,"h":0.01},
      {"chr":"14","pos":3,"a":-0.01,"b":0.01,"c":0.0,"d":0.0,"e":0.01,"f":0.0,"g":0.01,"h":0.0},
      {"chr":"14","pos":14,"a":0.01,"b":0.0,"c":0.01,"d":-0.01,"e":-0.01,"f":0.01,"g":0.0,"h":0.01},
      {"chr":"14","pos":25,"a":0.0,"b":-0.02,"c":-0.01,"d":0.01,"e":0.02,"f":0.0,"g":-0.01,"h":0.0},
      {"chr":"14","pos":36,"a":0.01,"b":0.01,"c":0.0,"d":0.0,"e":0.0,"f":-0.01,"g":0.01,"h":-0.01},
      {"chr":"14","pos":47,"a":0.0,"b":-0.04,"c":0.02,"d":0.01,"e":0.03,"f":0.01,"g":0.0,"h":0.01},
      {"chr":"14","pos":58,"a":-0.01,"b":0.02,"c":-0.03,"d":0.0,"e":0.0,"f":0.0,"g":0.01,"h":0.0},
      {"chr":"14","pos":69,"a":0.01,"b":-0.03,"c":0.0,"d":-0.01,"e":0.01,"f":0.01,"g":-0.01,"h":0.0},
      {"chr":"14","pos":80,"a":0.0,"b":0.01,"c":0.01,"d":0.01,"e":-0.01,"f":-0.01,"g":0.0,"h":0.01},
      {"chr":"14","pos":91,"a":0.01,"b":0.0,"c":-0.02,"d":0.0,"e":0.02,"f":0.01,"g":0.01,"h":0.01},
      {"chr":"14","pos":102,"a":0.0,"b":0.01,"c":0.0,"d":0.01,"e":0.0,"f":0.0,"g":-0.01,"h":0.05},
      {"chr":"14","pos":113,"a":-0.01,"b":-0.01,"c":0.01,"d":-0.01,"e":0.01,"f":0.01,"g":0.0,"h":0.0},
      {"chr":"14","pos":124,"a":0.0,"b":0.0,"c":0.0,"d":0.0,"e":-0.01,"f":0.0,"g":0.01,"h":0.0},
      {"chr":"15","pos":3,"a":0.0,"b":-0.03,"c":0.01,"d":0.0,"e":0.0,"f":0.0,"g":0.01,"h":0.0},
      {"chr":"15","pos":12,"a":0.01,"b":0.0,"c":0.0,"d":0.01,"e":0.01,"f":-0.01,"g":0.0,"h":0.01},
      {"chr":"15","pos":21,"a":0.0,"b":0.01,"c":0.02,"d":-0.01,"e":0.0,"f":0.01,"g":-0.01,"h":0.0},
      {"chr":"15","pos":30,"a":-0.01,"b":0.0,"c":0.0,"d":0.0,"e":0.01,"f":0.0,"g":0.0,"h":-0.01},
      {"chr":"15","pos":39,"a":0.01,"b":0.01,"c":0.01,"d":0.01,"e":-0.01,"f":0.01,"g":0.01,"h":0.0},
      {"chr":"15","pos":48,"a":-0.03,"b":0.0,"c":0.02,"d":0.0,"e":0.0,"f":0.03,"g":0.0,"h":0.01},
      {"chr":"15","pos":58,"a":-0.06,"b":-0.01,"c":0.0,"d":-0.01,"e":0.01,"f":0.0,"g":-0.01,"h":0.0},
      {"chr":"15","pos":67,"a":-0.02,"b":0.01,"c":0.01,"d":0.0,"e":0.0,"f":0.01,"g":0.0,"h":0.0},
      {"chr":"15","pos":76,"a":0.01,"b":0.0,"c":-0.01,"d":0.01,"e":0.01,"f":-0.01,"g":0.01,"h":0.01},
      {"chr":"15","pos":85,"a":0.0,"b":-0.01,"c":0.02,"d":0.0,"e":0.0,"f":0.0,"g":-0.01,"h":0.0},
      {"chr":"15","pos":94,"a":0.01,"b":0.0,"c":0.0,"d":0.01,"e":-0.01,"f":0.01,"g":0.0,"h":-0.01},
      {"chr":"15","pos":103,"a":0.0,"b":0.01,"c":0.01,"d":0.0,"e":0.02,"f":0.0,"g":-0.02,"h":0.0},
      {"chr":"16","pos":3,"a":0.0,"b":-0.1,"c":0.02,"d":0.01,"e":0.0,"f":0.04,"g":0.0,"h":0.0},
      {"chr":"16","pos":12,"a":-0.15,"b":0.02,"c":0.0,"d":0.0,"e":0.08,"f":0.05,"g":0.01,"h":0.01},
      {"chr":"16","pos":20,"a":-0.08,"b":0.06,"c":0.01,"d":-0.01,"e":0.02,"f":0.04,"g":0.0,"h":0.0},
      {"chr":"16","pos":29,"a":0.0,"b":0.0,"c":0.0,"d":0.0,"e":0.01,"f":0.0,"g":-0.01,"h":0.01},
      {"chr":"16","pos":38,"a":0.01,"b":0.01,"c":0.01,"d":0.01,"e":-0.01,"f":0.02,"g":0.0,"h":0.0},
      {"chr":"16","pos":46,"a":0.0,"b":-0.01,"c":-0.04,"d":0.0,"e":0.0,"f":0.01,"g":0.01,"h":-0.01},
      {"chr":"16","pos":55,"a":0.01,"b":0.0,"c":0.01,"d":-0.01,"e":0.01,"f":-0.01,"g":-0.01,"h":0.0},
      {"chr":"16","pos":63,"a":0.0,"b":0.01,"c":0.0,"d":0.01,"e":0.0,"f":0.01,"g":0.0,"h":0.01},
      {"chr":"16","pos":72,"a":-0.01,"b":-0.01,"c":0.01,"d":0.0,"e":0.01,"f":0.0,"g":0.01,"h":0.0},
      {"chr":"16","pos":81,"a":0.01,"b":0.0,"c":-0.01,"d":0.0,"e":-0.01,"f":0.01,"g":0.0,"h":0.0},
      {"chr":"16","pos":89,"a":0.0,"b":0.01,"c":0.0,"d":0.01,"e":0.01,"f":-0.01,"g":-0.01,"h":0.01},
      {"chr":"16","pos":98,"a":0.0,"b":-0.01,"c":0.01,"d":-0.01,"e":0.0,"f":0.01,"g":0.0,"h":0.0},
      {"chr":"17","pos":3,"a":0.0,"b":0.01,"c":0.0,"d":-0.01,"e":0.01,"f":0.0,"g":0.01,"h":0.0},
      {"chr":"17","pos":11,"a":0.01,"b":0.0,"c":0.02,"d":0.0,"e":0.0,"f":0.01,"g":0.0,"h":0.01},
      {"chr":"17","pos":20,"a":0.0,"b":0.01,"c":0.04,"d":0.01,"e":-0.01,"f":0.0,"g":-0.01,"h":0.0},
      {"chr":"17","pos":28,"a":-0.01,"b":0.0,"c":0.01,"d":0.0,"e":0.01,"f":-0.01,"g":0.0,"h":0.01},
      {"chr":"17","pos":36,"a":0.01,"b":0.02,"c":0.0,"d":0.01,"e":0.0,"f":0.01,"g":0.01,"h":0.0},
      {"chr":"17","pos":45,"a":0.0,"b":-0.01,"c":0.01,"d":0.0,"e":0.01,"f":0.0,"g":0.0,"h":-0.01},
      {"chr":"17","pos":53,"a":0.01,"b":0.01,"c":-0.01,"d":-0.01,"e":0.03,"f":0.01,"g":-0.01,"h":0.0},
      {"chr":"17","pos":62,"a":0.0,"b":0.0,"c":0.01,"d":0.0,"e":0.0,"f":0.0,"g":0.01,"h":0.01},
      {"chr":"17","pos":70,"a":-0.01,"b":0.01,"c":0.0,"d":0.01,"e":0.01,"f":-0.01,"g":0.0,"h":0.0},
      {"chr":"17","pos":78,"a":0.01,"b":0.0,"c":0.01,"d":0.0,"e":-0.04,"f":0.06,"g":0.01,"h":0.0},
      {"chr":"17","pos":87,"a":0.0,"b":-0.01,"c":0.0,"d":-0.01,"e":0.01,"f":0.0,"g":0.0,"h":0.01},
      {"chr":"17","pos":95,"a":0.01,"b":0.0,"c":0.01,"d":0.0,"e":0.0,"f":0.01,"g":-0.01,"h":0.0},
      {"chr":"18","pos":3,"a":0.01,"b":0.0,"c":0.0,"d":0.01,"e":0.0,"f":-0.03,"g":0.0,"h":0.01},
      {"chr":"18","pos":11,"a":-0.03,"b":0.01,"c":0.04,"d":0.0,"e":0.01,"f":0.01,"g":0.0,"h":0.0},
      {"chr":"18","pos":19,"a":0.0,"b":0.0,"c":0.01,"d":-0.01,"e":0.0,"f":0.0,"g":-0.01,"h":0.01},
      {"chr":"18","pos":27,"a":0.01,"b":-0.01,"c":0.0,"d":0.0,"e":0.01,"f":0.01,"g":0.01,"h":0.0},
      {"chr":"18","pos":35,"a":0.0,"b":0.01,"c":-0.01,"d":0.01,"e":0.0,"f":0.0,"g":0.0,"h":-0.01},
      {"chr":"18","pos":43,"a":-0.01,"b":0.0,"c":0.01,"d":0.0,"e":-0.01,"f":0.02,"g":0.0,"h":0.0},
      {"chr":"18","pos":50,"a":0.01,"b":-0.01,"c":0.0,"d":0.01,"e":0.01,"f":0.0,"g":-0.01,"h":0.01},
      {"chr":"18","pos":58,"a":0.0,"b":0.01,"c":0.01,"d":0.0,"e":0.0,"f":-0.01,"g":0.01,"h":0.0},
      {"chr":"18","pos":66,"a":0.01,"b":0.0,"c":0.0,"d":-0.01,"e":0.01,"f":0.01,"g":0.0,"h":0.0},
      {"chr":"18","pos":74,"a":0.0,"b":-0.01,"c":0.01,"d":0.0,"e":0.0,"f":0.0,"g":-0.01,"h":0.01},
      {"chr":"18","pos":82,"a":-0.01,"b":0.0,"c":0.0,"d":0.01,"e":-0.01,"f":0.01,"g":0.0,"h":0.0},
      {"chr":"18","pos":90,"a":0.0,"b":0.01,"c":0.01,"d":0.0,"e":0.01,"f":0.0,"g":0.0,"h":0.0},
      {"chr":"19","pos":3,"a":0.04,"b":0.0,"c":0.01,"d":-0.01,"e":0.0,"f":0.0,"g":0.0,"h":0.0},
      {"chr":"19","pos":8,"a":0.02,"b":0.01,"c":0.0,"d":0.0,"e":0.01,"f":0.01,"g":-0.01,"h":0.0},
      {"chr":"19","pos":14,"a":0.0,"b":0.0,"c":-0.01,"d":-0.01,"e":0.0,"f":0.0,"g":0.0,"h":0.0},
      {"chr":"19","pos":19,"a":0.01,"b":0.01,"c":0.0,"d":0.0,"e":0.01,"f":-0.01,"g":0.0,"h":0.0},
      {"chr":"19","pos":24,"a":0.0,"b":0.0,"c":0.01,"d":-0.01,"e":0.0,"f":0.0,"g":0.01,"h":0.0},
      {"chr":"19","pos":29,"a":0.0,"b":0.01,"c":0.0,"d":0.0,"e":0.0,"f":0.0,"g":0.0,"h":0.0},
      {"chr":"19","pos":35,"a":0.01,"b":0.0,"c":0.0,"d":-0.01,"e":0.01,"f":0.01,"g":0.0,"h":0.0},
      {"chr":"19","pos":40,"a":0.0,"b":0.0,"c":-0.01,"d":0.0,"e":0.0,"f":0.0,"g":-0.01,"h":0.0},
      {"chr":"19","pos":45,"a":0.01,"b":0.01,"c":0.0,"d":0.0,"e":0.0,"f":0.01,"g":0.0,"h":0.0},
      {"chr":"19","pos":51,"a":0.0,"b":0.0,"c":0.01,"d":-0.01,"e":0.01,"f":0.0,"g":0.0,"h":0.0},
      {"chr":"19","pos":56,"a":0.0,"b":0.0,"c":0.0,"d":0.0,"e":0.0,"f":0.0,"g":0.0,"h":0.0},
      {"chr":"19","pos":61,"a":0.01,"b":0.0,"c":0.02,"d":0.0,"e":0.01,"f":0.0,"g":0.0,"h":0.0},
      {"chr":"X","pos":3,"a":0.03,"b":0.05,"c":-0.02,"d":0.06,"e":0.01,"f":0.0,"g":-0.03,"h":0.0},
      {"chr":"X","pos":18,"a":-0.08,"b":-0.15,"c":0.02,"d":-0.06,"e":0.02,"f":0.09,"g":0.0,"h":0.06},
      {"chr":"X","pos":34,"a":0.0,"b":-0.05,"c":0.01,"d":-0.15,"e":0.0,"f":0.1,"g":0.01,"h":0.0},
      {"chr":"X","pos":49,"a":0.01,"b":0.05,"c":-0.01,"d":0.01,"e":0.04,"f":-0.03,"g":0.0,"h":0.01},
      {"chr":"X","pos":64,"a":0.03,"b":0.01,"c":0.02,"d":0.0,"e":0.0,"f":0.02,"g":-0.01,"h":0.0},
      {"chr":"X","pos":79,"a":-0.01,"b":0.02,"c":0.01,"d":0.01,"e":-0.02,"f":-0.05,"g":0.01,"h":0.0},
      {"chr":"X","pos":95,"a":0.04,"b":0.0,"c":0.0,"d":0.0,"e":0.02,"f":0.01,"g":0.0,"h":0.01},
      {"chr":"X","pos":110,"a":0.0,"b":-0.02,"c":0.06,"d":0.01,"e":-0.01,"f":0.03,"g":-0.01,"h":0.0},
      {"chr":"X","pos":125,"a":0.01,"b":-0.1,"c":0.02,"d":0.0,"e":0.06,"f":-0.02,"g":0.01,"h":-0.01},
      {"chr":"X","pos":140,"a":0.0,"b":0.01,"c":-0.01,"d":0.01,"e":0.0,"f":0.01,"g":0.0,"h":0.0},
      {"chr":"X","pos":156,"a":0.02,"b":-0.02,"c":0.0,"d":0.0,"e":0.01,"f":-0.03,"g":0.01,"h":0.01},
      {"chr":"X","pos":171,"a":0.0,"b":0.03,"c":0.01,"d":0.0,"e":0.02,"f":0.0,"g":-0.01,"h":0.0}
    ],
    "xo": [
      {"giga":701,"c001":28,"c005":65,"c01":245,"c05":610,"c1":612,"c5":645,"cf":640},
      {"giga":726,"c001":36,"c005":78,"c01":270,"c05":652,"c1":693,"c5":738,"cf":815},
      {"giga":733,"c001":38,"c005":85,"c01":217,"c05":618,"c1":645,"c5":655,"cf":770},
      {"giga":742,"c001":27,"c005":75,"c01":265,"c05":648,"c1":700,"c5":712,"cf":740},
      {"giga":743,"c001":45,"c005":72,"c01":251,"c05":632,"c1":676,"c5":705,"cf":752},
      {"giga":746,"c001":58,"c005":78,"c01":272,"c05":660,"c1":690,"c5":722,"cf":758},
      {"giga":747,"c001":35,"c005":64,"c01":264,"c05":588,"c1":640,"c5":668,"cf":745},
      {"giga":751,"c001":38,"c005":70,"c01":261,"c05":638,"c1":712,"c5":708,"cf":770},
      {"giga":752,"c001":34,"c005":88,"c01":239,"c05":640,"c1":682,"c5":690,"cf":778},
      {"giga":754,"c001":40,"c005":60,"c01":247,"c05":645,"c1":716,"c5":730,"cf":768},
      {"giga":757,"c001":30,"c005":82,"c01":271,"c05":628,"c1":690,"c5":728,"cf":802},
      {"giga":758,"c001":28,"c005":76,"c01":254,"c05":662,"c1":703,"c5":740,"cf":760},
      {"giga":759,"c001":48,"c005":68,"c01":261,"c05":650,"c1":720,"c5":708,"cf":805},
      {"giga":760,"c001":55,"c005":90,"c01":246,"c05":642,"c1":692,"c5":738,"cf":755},
      {"giga":761,"c001":32,"c005":78,"c01":288,"c05":625,"c1":708,"c5":690,"cf":795},
      {"giga":762,"c001":42,"c005":72,"c01":277,"c05":668,"c1":688,"c5":725,"cf":808},
      {"giga":763,"c001":36,"c005":84,"c01":233,"c05":655,"c1":740,"c5":682,"cf":745},
      {"giga":764,"c001":50,"c005":66,"c01":257,"c05":662,"c1":705,"c5":770,"cf":790},
      {"giga":765,"c001":30,"c005":80,"c01":247,"c05":650,"c1":695,"c5":730,"cf":788},
      {"giga":768,"c001":38,"c005":74,"c01":259,"c05":655,"c1":722,"c5":740,"cf":790},
      {"giga":776,"c001":20,"c005":85,"c01":212,"c05":622,"c1":700,"c5":748,"cf":905},
      {"giga":778,"c001":45,"c005":82,"c01":273,"c05":762,"c1":708,"c5":785,"cf":800},
      {"giga":781,"c001":32,"c005":80,"c01":286,"c05":695,"c1":735,"c5":690,"cf":780},
      {"giga":784,"c001":42,"c005":86,"c01":291,"c05":655,"c1":722,"c5":732,"cf":850},
      {"giga":785,"c001":28,"c005":70,"c01":261,"c05":700,"c1":742,"c5":720,"cf":795},
      {"giga":786,"c001":52,"c005":75,"c01":251,"c05":670,"c1":725,"c5":740,"cf":780},
      {"giga":788,"c001":25,"c005":65,"c01":241,"c05":652,"c1":685,"c5":735,"cf":855},
      {"giga":789,"c001":38,"c005":78,"c01":254,"c05":680,"c1":730,"c5":722,"cf":790},
      {"giga":793,"c001":48,"c005":80,"c01":244,"c05":690,"c1":705,"c5":730,"cf":735},
      {"giga":795,"c001":32,"c005":72,"c01":254,"c05":632,"c1":650,"c5":715,"cf":745},
      {"giga":797,"c001":35,"c005":78,"c01":272,"c05":680,"c1":760,"c5":708,"cf":700},
      {"giga":800,"c001":28,"c005":85,"c01":286,"c05":655,"c1":720,"c5":770,"cf":870},
      {"giga":801,"c001":40,"c005":76,"c01":282,"c05":705,"c1":740,"c5":690,"cf":828},
      {"giga":803,"c001":30,"c005":92,"c01":270,"c05":690,"c1":730,"c5":785,"cf":810},
      {"giga":804,"c001":38,"c005":78,"c01":278,"c05":660,"c1":768,"c5":748,"cf":875},
      {"giga":805,"c001":26,"c005":70,"c01":252,"c05":722,"c1":700,"c5":800,"cf":812},
      {"giga":807,"c001":35,"c005":108,"c01":306,"c05":655,"c1":760,"c5":770,"cf":788},
      {"giga":810,"c001":30,"c005":82,"c01":275,"c05":705,"c1":700,"c5":742,"cf":812},
      {"giga":813,"c001":28,"c005":80,"c01":267,"c05":730,"c1":745,"c5":800,"cf":970},
      {"giga":814,"c001":20,"c005":72,"c01":264,"c05":655,"c1":715,"c5":780,"cf":888},
      {"giga":815,"c001":22,"c005":70,"c01":255,"c05":720,"c1":738,"c5":768,"cf":778},
      {"giga":824,"c001":28,"c005":79,"c01":254,"c05":692,"c1":712,"c5":780,"cf":820},
      {"giga":829,"c001":40,"c005":72,"c01":238,"c05":708,"c1":740,"c5":762,"cf":818},
      {"giga":831,"c001":52,"c005":80,"c01":274,"c05":712,"c1":760,"c5":802,"cf":855},
      {"giga":849,"c001":45,"c005":82,"c01":287,"c05":760,"c1":808,"c5":828,"cf":903}
    ],
    "xofit": [
      {"cov":"c001","giga":701,"gbs":37.5},{"cov":"c001","giga":849,"gbs":33.4},
      {"cov":"c005","giga":701,"gbs":69.8},{"cov":"c005","giga":849,"gbs":78.5},
      {"cov":"c01","giga":701,"gbs":247},{"cov":"c01","giga":849,"gbs":272.8},
      {"cov":"c05","giga":701,"gbs":607.4},{"cov":"c05","giga":849,"gbs":726.8},
      {"cov":"c1","giga":701,"gbs":656},{"cov":"c1","giga":849,"gbs":770},
      {"cov":"c5","giga":701,"gbs":656},{"cov":"c5","giga":849,"gbs":801},
      {"cov":"cf","giga":701,"gbs":704},{"cov":"cf","giga":849,"gbs":850}
    ],
    "identity": [{"giga":693.6,"gbs":693.6},{"giga":856.4,"gbs":856.4}],
    "hist": [
      {"plat":"GigaMUGA","lo":-0.064,"hi":0.064,"n":863},{"plat":"GigaMUGA","lo":0.064,"hi":0.192,"n":1314},{"plat":"GigaMUGA","lo":0.192,"hi":0.321,"n":1343},{"plat":"GigaMUGA","lo":0.321,"hi":0.449,"n":1343},{"plat":"GigaMUGA","lo":0.449,"hi":0.577,"n":1229},{"plat":"GigaMUGA","lo":0.577,"hi":0.705,"n":1329},{"plat":"GigaMUGA","lo":0.705,"hi":0.833,"n":1243},{"plat":"GigaMUGA","lo":0.833,"hi":0.962,"n":1166},{"plat":"GigaMUGA","lo":0.962,"hi":1.090,"n":1157},{"plat":"GigaMUGA","lo":1.090,"hi":1.218,"n":1043},
      {"plat":"GigaMUGA","lo":1.218,"hi":1.346,"n":1057},{"plat":"GigaMUGA","lo":1.346,"hi":1.474,"n":969},{"plat":"GigaMUGA","lo":1.474,"hi":1.603,"n":1026},{"plat":"GigaMUGA","lo":1.603,"hi":1.731,"n":949},{"plat":"GigaMUGA","lo":1.731,"hi":1.859,"n":897},{"plat":"GigaMUGA","lo":1.859,"hi":1.987,"n":806},{"plat":"GigaMUGA","lo":1.987,"hi":2.115,"n":737},{"plat":"GigaMUGA","lo":2.115,"hi":2.244,"n":751},{"plat":"GigaMUGA","lo":2.244,"hi":2.372,"n":706},{"plat":"GigaMUGA","lo":2.372,"hi":2.500,"n":763},
      {"plat":"GigaMUGA","lo":2.500,"hi":2.628,"n":649},{"plat":"GigaMUGA","lo":2.628,"hi":2.756,"n":629},{"plat":"GigaMUGA","lo":2.756,"hi":2.885,"n":566},{"plat":"GigaMUGA","lo":2.885,"hi":3.013,"n":563},{"plat":"GigaMUGA","lo":3.013,"hi":3.141,"n":543},{"plat":"GigaMUGA","lo":3.141,"hi":3.269,"n":534},{"plat":"GigaMUGA","lo":3.269,"hi":3.397,"n":449},{"plat":"GigaMUGA","lo":3.397,"hi":3.526,"n":471},{"plat":"GigaMUGA","lo":3.526,"hi":3.654,"n":434},{"plat":"GigaMUGA","lo":3.654,"hi":3.782,"n":437},
      {"plat":"GigaMUGA","lo":3.782,"hi":3.910,"n":391},{"plat":"GigaMUGA","lo":3.910,"hi":4.038,"n":386},{"plat":"GigaMUGA","lo":4.038,"hi":4.167,"n":391},{"plat":"GigaMUGA","lo":4.167,"hi":4.295,"n":326},{"plat":"GigaMUGA","lo":4.295,"hi":4.423,"n":371},{"plat":"GigaMUGA","lo":4.423,"hi":4.551,"n":337},{"plat":"GigaMUGA","lo":4.551,"hi":4.679,"n":334},{"plat":"GigaMUGA","lo":4.679,"hi":4.808,"n":257},{"plat":"GigaMUGA","lo":4.808,"hi":4.936,"n":306},{"plat":"GigaMUGA","lo":4.936,"hi":5.064,"n":140},
      {"plat":"lcGBS","lo":-0.064,"hi":0.064,"n":2290},{"plat":"lcGBS","lo":0.064,"hi":0.192,"n":3266},{"plat":"lcGBS","lo":0.192,"hi":0.321,"n":1640},{"plat":"lcGBS","lo":0.321,"hi":0.449,"n":1223},{"plat":"lcGBS","lo":0.449,"hi":0.577,"n":1100},{"plat":"lcGBS","lo":0.577,"hi":0.705,"n":1057},{"plat":"lcGBS","lo":0.705,"hi":0.833,"n":1020},{"plat":"lcGBS","lo":0.833,"hi":0.962,"n":949},{"plat":"lcGBS","lo":0.962,"hi":1.090,"n":911},{"plat":"lcGBS","lo":1.090,"hi":1.218,"n":886},
      {"plat":"lcGBS","lo":1.218,"hi":1.346,"n":823},{"plat":"lcGBS","lo":1.346,"hi":1.474,"n":794},{"plat":"lcGBS","lo":1.474,"hi":1.603,"n":809},{"plat":"lcGBS","lo":1.603,"hi":1.731,"n":700},{"plat":"lcGBS","lo":1.731,"hi":1.859,"n":709},{"plat":"lcGBS","lo":1.859,"hi":1.987,"n":614},{"plat":"lcGBS","lo":1.987,"hi":2.115,"n":614},{"plat":"lcGBS","lo":2.115,"hi":2.244,"n":597},{"plat":"lcGBS","lo":2.244,"hi":2.372,"n":569},{"plat":"lcGBS","lo":2.372,"hi":2.500,"n":566},
      {"plat":"lcGBS","lo":2.500,"hi":2.628,"n":563},{"plat":"lcGBS","lo":2.628,"hi":2.756,"n":529},{"plat":"lcGBS","lo":2.756,"hi":2.885,"n":463},{"plat":"lcGBS","lo":2.885,"hi":3.013,"n":471},{"plat":"lcGBS","lo":3.013,"hi":3.141,"n":497},{"plat":"lcGBS","lo":3.141,"hi":3.269,"n":486},{"plat":"lcGBS","lo":3.269,"hi":3.397,"n":394},{"plat":"lcGBS","lo":3.397,"hi":3.526,"n":423},{"plat":"lcGBS","lo":3.526,"hi":3.654,"n":397},{"plat":"lcGBS","lo":3.654,"hi":3.782,"n":414},
      {"plat":"lcGBS","lo":3.782,"hi":3.910,"n":386},{"plat":"lcGBS","lo":3.910,"hi":4.038,"n":343},{"plat":"lcGBS","lo":4.038,"hi":4.167,"n":337},{"plat":"lcGBS","lo":4.167,"hi":4.295,"n":320},{"plat":"lcGBS","lo":4.295,"hi":4.423,"n":334},{"plat":"lcGBS","lo":4.423,"hi":4.551,"n":320},{"plat":"lcGBS","lo":4.551,"hi":4.679,"n":277},{"plat":"lcGBS","lo":4.679,"hi":4.808,"n":243},{"plat":"lcGBS","lo":4.808,"hi":4.936,"n":257},{"plat":"lcGBS","lo":4.936,"hi":5.064,"n":134}
    ]
  },
  "spacing": 92,
  "resolve": {"scale": {"color": "independent", "fill": "independent", "stroke": "independent"}},
  "hconcat": [
    {
      "spacing": 67,
      "center": true,
      "vconcat": [
        {
          "width": 1480,
          "height": 627,
          "title": {"text": " ", "fontSize": 1, "offset": 6.75, "anchor": "end", "dx": 44.75},
          "layer": [
            {
              "data": {"name": "conc"},
              "mark": {"type": "circle", "size": 800, "color": "#00649A", "opacity": 0.25},
              "encoding": {
                "x": {"field": "depth", "type": "quantitative", "title": "Sequencing depth (X)",
                      "scale": {"type": "log", "domain": [0.00067, 3.377], "nice": false},
                      "axis": {"values": [0.001, 0.01, 0.1, 1], "format": ".3f", "labelFontSize": 55, "titleY": 162, "titleBaseline": "alphabetic"}},
                "y": {"field": "conc", "type": "quantitative", "title": "Mean concordance",
                      "scale": {"domain": [0.6162, 0.9627], "nice": false, "zero": false},
                      "axis": {"values": [0.7, 0.8, 0.9], "format": ".1f", "labelFontSize": 55, "titleX": -148.5, "titleBaseline": "alphabetic"}}
              }
            },
            {
              "data": {"name": "fit"},
              "mark": {"type": "area", "color": "#999999", "opacity": 0.45, "interpolate": "monotone"},
              "encoding": {
                "x": {"field": "depth", "type": "quantitative"},
                "y": {"field": "lo", "type": "quantitative"},
                "y2": {"field": "hi"}
              }
            },
            {
              "data": {"name": "fit"},
              "mark": {"type": "line", "color": "#00649A", "strokeWidth": 8, "interpolate": "monotone"},
              "encoding": {
                "x": {"field": "depth", "type": "quantitative"},
                "y": {"field": "fit", "type": "quantitative"}
              }
            },
            {
              "data": {"name": "thresh"},
              "mark": {"type": "rule", "color": "#444444", "strokeWidth": 2, "strokeDash": [6, 5]},
              "encoding": {"y": {"field": "conc", "type": "quantitative"}}
            }
          ]
        },
        {
          "data": {"name": "af"},
          "transform": [{"fold": ["a", "b", "c", "d", "e", "f", "g", "h"], "as": ["strain", "diff"]}],
          "title": {"text": ["lcGBS - GigaMUGA", "Allele Frequency (%)"], "orient": "left", "anchor": "middle", "fontSize": 71, "lineHeight": 76, "offset": 23},
          "facet": {
            "field": "chr", "type": "ordinal",
            "sort": ["1","2","3","4","5","6","7","8","9","10","11","12","13","14","15","16","17","18","19","X"],
            "title": "Genomic position (Mb)",
            "header": {"labels": false, "labelFontSize": 1, "labelPadding": 0, "labelExpr": "''", "labelColor": "transparent", "titleOrient": "bottom", "titleFontSize": 71, "titleFontWeight": "normal", "titleColor": "#000000", "titleFont": "Liberation Sans", "titlePadding": 26}
          },
          "columns": 5,
          "spacing": {"row": 13.5, "column": 0},
          "resolve": {"scale": {"x": "independent"}},
          "spec": {
            "width": 273.4,
            "height": 169.5,
            "layer": [
              {
                "mark": {"type": "line", "strokeWidth": 3},
                "encoding": {
                  "x": {"field": "pos", "type": "quantitative", "axis": null, "scale": {"zero": false, "nice": false, "padding": 12}},
                  "y": {"field": "diff", "type": "quantitative", "scale": {"domain": [-0.3135, 0.5625], "nice": false},
                        "axis": {"values": [-0.2, 0, 0.2], "format": ".1f", "labelExpr": "replace(datum.label, '\u2212', '-')", "labelFontSize": 32, "labelColor": "#4D4D4D", "tickSize": 18, "tickWidth": 3.5, "labelPadding": 15, "title": null}},
                  "color": {"field": "strain", "type": "nominal", "legend": null,
                            "scale": {"domain": ["a","b","c","d","e","f","g","h"], "range": ["#555555","#E69F00","#56B4E9","#009E73","#F0E442","#0072B2","#D55E00","#CC79A7"]}}
                }
              },
              {
                "transform": [{"filter": "datum.pos == 3 && datum.strain == 'a'"}],
                "mark": {"type": "rect", "color": "#333333"},
                "encoding": {"y": {"datum": 0.317}, "y2": {"datum": 0.3466}}
              },
              {
                "transform": [{"filter": "datum.pos == 3 && datum.strain == 'a'"}],
                "mark": {"type": "text", "fontSize": 32, "color": "#1A1A1A", "baseline": "middle"},
                "encoding": {"text": {"field": "chr"}, "y": {"datum": 0.45}}
              }
            ]
          }
        }
      ]
    },
    {
      "spacing": 76,
      "hconcat": [
        {
          "width": 761,
          "height": 1161,
          "layer": [
            {
              "data": {"name": "xo"},
              "transform": [{"fold": ["c001", "c005", "c01", "c05", "c1", "c5", "cf"], "as": ["cov", "gbs"]}],
              "mark": {"type": "circle", "size": 480, "stroke": "#000000", "strokeWidth": 1, "strokeOpacity": 0.5, "fillOpacity": 0.6},
              "encoding": {
                "x": {"field": "giga", "type": "quantitative", "title": ["GigaMUGA", "autosomal crossovers"],
                      "scale": {"domain": [693.6, 856.4], "nice": false, "zero": false},
                      "axis": {"values": [700, 750, 800, 850], "titleY": 160.4, "titleBaseline": "alphabetic", "titleLineHeight": 74}},
                "y": {"field": "gbs", "type": "quantitative", "title": "GBS autosomal crossovers",
                      "scale": {"domain": [-31.2, 1016.6], "nice": false},
                      "axis": {"values": [0, 250, 500, 750, 1000], "format": "d", "titleX": -193, "titleBaseline": "alphabetic"}},
                "fill": {"field": "cov", "type": "nominal",
                         "scale": {"domain": ["c001", "c01", "c1", "cf", "c005", "c05", "c5"], "range": ["#CDEBFA", "#45BCF5", "#0A5E8E", "#061A33", "#86D4F9", "#0C84C6", "#0A4266"]},
                         "legend": {"title": "Coverage (X)", "orient": "none", "legendX": -17, "legendY": 1469.5, "columns": 4, "direction": "horizontal", "gridAlign": "none",
                                    "titleOrient": "left", "titleAnchor": "middle", "titleBaseline": "middle", "titleFontSize": 70, "titlePadding": 23,
                                    "labelFontSize": 55, "labelOffset": 30, "columnPadding": 20, "rowPadding": 0,
                                    "symbolType": "circle", "symbolSize": 490, "symbolStrokeColor": "#333333", "symbolStrokeWidth": 1.5, "symbolOpacity": 0.7,
                                    "labelExpr": "datum.label == 'c001' ? '0.001X' : datum.label == 'c005' ? '0.005X' : datum.label == 'c01' ? '0.01X' : datum.label == 'c05' ? '0.05X' : datum.label == 'c1' ? '0.1X' : datum.label == 'c5' ? '0.5X' : 'Full Coverage'"}}
              }
            },
            {
              "data": {"name": "xofit"},
              "mark": {"type": "line", "strokeWidth": 6},
              "encoding": {
                "x": {"field": "giga", "type": "quantitative"},
                "y": {"field": "gbs", "type": "quantitative"},
                "stroke": {"field": "cov", "type": "nominal", "legend": null,
                           "scale": {"domain": ["c001", "c01", "c1", "cf", "c005", "c05", "c5"], "range": ["#C4E8FA", "#3DBAF6", "#0B6496", "#061A33", "#7FD2FA", "#0A86C9", "#0A4A70"]}}
              }
            },
            {
              "data": {"name": "identity"},
              "mark": {"type": "line", "color": "#000000", "strokeWidth": 5, "strokeDash": [5, 9]},
              "encoding": {
                "x": {"field": "giga", "type": "quantitative"},
                "y": {"field": "gbs", "type": "quantitative"}
              }
            }
          ]
        },
        {
          "width": 759,
          "height": 1161,
          "title": {"text": " ", "fontSize": 1, "offset": 6.35},
          "data": {"name": "hist"},
          "mark": {"type": "rect", "opacity": 0.6},
          "encoding": {
            "x": {"field": "lo", "type": "quantitative", "title": ["Haplotype block length", "(Mb)"],
                  "scale": {"domain": [-0.32, 5.32], "nice": false, "zero": false},
                  "axis": {"values": [0, 1, 2, 3, 4, 5], "titleY": 160.4, "titleBaseline": "alphabetic", "titleLineHeight": 74}},
            "x2": {"field": "hi"},
            "y": {"field": "n", "type": "quantitative", "title": "Count",
                  "scale": {"domain": [-163, 3429], "nice": false},
                  "axis": {"values": [0, 1000, 2000, 3000], "format": "d", "titleX": -196, "titleBaseline": "alphabetic"}},
            "y2": {"datum": 0},
            "color": {"field": "plat", "type": "nominal",
                      "scale": {"domain": ["GigaMUGA", "lcGBS"], "range": ["#D9572A", "#00669D"]},
                      "legend": {"title": "Platform", "orient": "none", "legendX": 337, "legendY": 1647.5, "direction": "horizontal",
                                 "titleOrient": "left", "titleAnchor": "middle", "titleBaseline": "middle", "titleFontSize": 70, "titlePadding": 28,
                                 "labelFontSize": 55, "labelOffset": 24.5, "columnPadding": 21.5,
                                 "symbolType": "M-0.47,-1H0.47V1H-0.47Z", "symbolSize": 2601, "symbolOpacity": 0.6, "symbolStrokeWidth": 0}}
          }
        }
      ]
    }
  ]
}
